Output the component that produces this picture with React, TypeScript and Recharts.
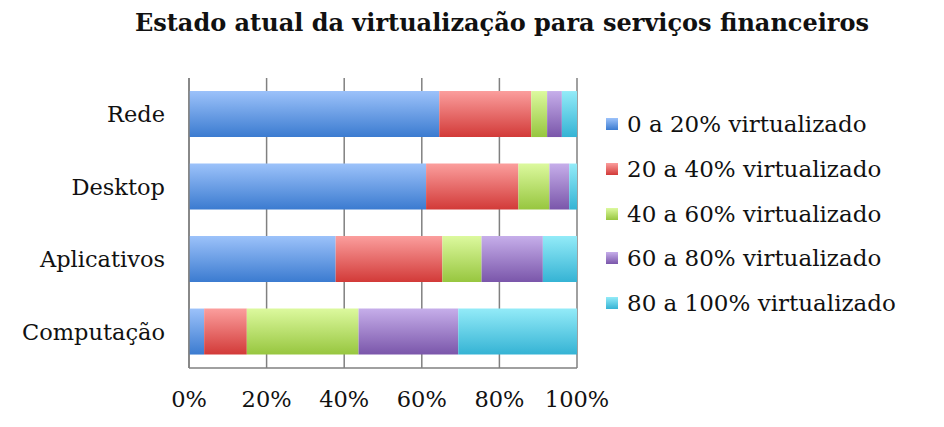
import React from 'react';
import { BarChart, Bar, XAxis, YAxis, CartesianGrid } from 'recharts';

const categories = ['Rede', 'Desktop', 'Aplicativos', 'Computação'];
const seriesNames = [
  '0 a 20% virtualizado',
  '20 a 40% virtualizado',
  '40 a 60% virtualizado',
  '60 a 80% virtualizado',
  '80 a 100% virtualizado',
];
const s0to20 = [64.5, 61.1, 37.8, 3.9];
const s20to40 = [23.7, 23.8, 27.5, 11.0];
const s40to60 = [4.1, 8.0, 10.1, 28.8];
const s60to80 = [3.8, 5.1, 15.8, 25.7];
const s80to100 = [3.9, 2.0, 8.8, 30.6];
const xTicks = [0, 20, 40, 60, 80, 100];

const seriesValues = [s0to20, s20to40, s40to60, s60to80, s80to100];
const keys = ['a', 'b', 'c', 'd', 'e'];
const gradients = [
  ['#9cc2fa', '#3b7bd0'],
  ['#fb9e9d', '#d23a38'],
  ['#dcf99e', '#97c63f'],
  ['#c6aeea', '#7a56aa'],
  ['#93ebf8', '#35b3d4'],
];

const data = categories.map((name, i) => {
  const row: any = { name };
  keys.forEach((k, j) => {
    row[k] = seriesValues[j][i];
  });
  return row;
});

const FONT = '"DejaVu Serif", serif';

export default function App() {
  return (
    <div style={{ position: 'absolute', left: 0, top: 0, width: 944, height: 427, background: '#fff' }}>
      <div
        style={{
          position: 'absolute',
          left: 0,
          top: 8,
          width: 1004,
          textAlign: 'center',
          fontFamily: FONT,
          fontWeight: 'bold',
          fontSize: 24,
          color: '#111',
          whiteSpace: 'nowrap',
        }}
      >
        Estado atual da virtualização para serviços financeiros
      </div>
      <div
        style={{
          position: 'absolute',
          left: 606,
          top: 102,
          fontFamily: FONT,
          fontSize: 23,
          color: '#111',
          whiteSpace: 'nowrap',
        }}
      >
        {seriesNames.map((n, i) => (
          <div key={n} style={{ display: 'flex', alignItems: 'center', height: 44.7 }}>
            <span
              style={{
                display: 'inline-block',
                width: 12,
                height: 12,
                marginRight: 9,
                background: `linear-gradient(${gradients[i][0]}, ${gradients[i][1]})`,
              }}
            />
            <span>{n}</span>
          </div>
        ))}
      </div>
      <BarChart
        width={944}
        height={427}
        data={data}
        layout="vertical"
        margin={{ top: 78, right: 367, bottom: 29, left: 0 }}
        barCategoryGap="18%"
      >
        <defs>
          {gradients.map((g, i) => (
            <linearGradient key={i} id={`grad${i}`} x1="0" y1="0" x2="0" y2="1">
              <stop offset="0%" stopColor={g[0]} />
              <stop offset="100%" stopColor={g[1]} />
            </linearGradient>
          ))}
        </defs>
        <CartesianGrid horizontal={false} stroke="#808080" strokeWidth={1.5} />
        <XAxis
          type="number"
          domain={[0, 100]}
          ticks={xTicks}
          tickFormatter={(v: number) => `${v}%`}
          axisLine={{ stroke: '#808080', strokeWidth: 1.5 }}
          tickLine={false}
          tickSize={0}
          tickMargin={23}
          height={30}
          tick={{ fill: '#111', fontFamily: FONT, fontSize: 22.5 }}
          interval={0}
        />
        <YAxis
          type="category"
          dataKey="name"
          width={189}
          axisLine={{ stroke: '#808080', strokeWidth: 1.5 }}
          tickLine={false}
          tickSize={0}
          tickMargin={24}
          tick={{ fill: '#111', fontFamily: FONT, fontSize: 22.5 }}
        />
        {keys.map((k, i) => (
          <Bar
            key={k}
            dataKey={k}
            name={seriesNames[i]}
            stackId="s"
            fill={`url(#grad${i})`}
            isAnimationActive={false}
          />
        ))}
      </BarChart>
    </div>
  );
}
